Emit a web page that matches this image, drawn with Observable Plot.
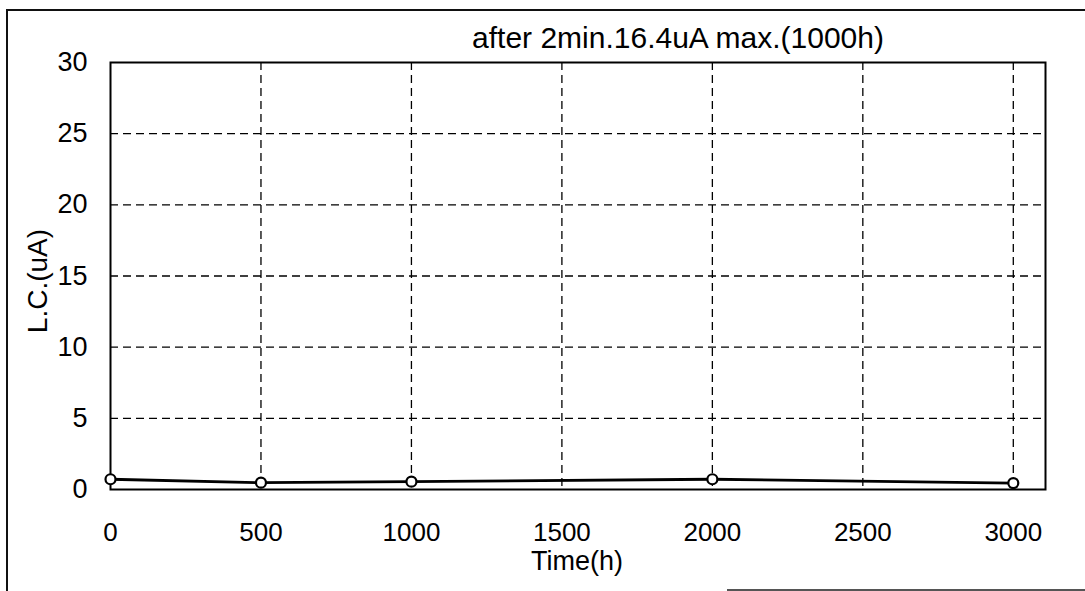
<!DOCTYPE html>
<html>
<head>
<meta charset="utf-8">
<script src="https://cdn.jsdelivr.net/npm/d3@7"></script>
<script src="https://cdn.jsdelivr.net/npm/@observablehq/plot@0.6"></script>
<style>
  html, body { margin: 0; padding: 0; background: #fff; }
  #wrap { position: relative; width: 1085px; height: 591px; overflow: hidden; background: #fff; }
  #wrap svg { position: absolute; left: 0; top: 0; }
  .b { position: absolute; background: #111; }
</style>
</head>
<body>
<div id="wrap">
  <div class="b" style="left:6px; top:9px; width:1079px; height:1.5px;"></div>
  <div class="b" style="left:6px; top:9px; width:1.5px; height:582px;"></div>
  <div class="b" style="left:727px; top:589px; width:358px; height:1.5px; background:#555;"></div>
</div>
<script>
const times = [0, 500, 1000, 2000, 3000];
const lc = [0.72, 0.48, 0.55, 0.72, 0.45];
const xTicks = [0, 500, 1000, 1500, 2000, 2500, 3000];
const yTicks = [0, 5, 10, 15, 20, 25, 30];
const xGrid = [500, 1000, 1500, 2000, 2500, 3000];
const yGrid = [5, 10, 15, 20, 25];
const title = "after 2min.16.4uA max.(1000h)";
const xLabel = "Time(h)";
const yLabel = "L.C.(uA)";

const data = times.map((t, i) => ({t, v: lc[i]}));
const font = "'Liberation Sans', Arial, Helvetica, sans-serif";

const chart = Plot.plot({
  width: 1085,
  height: 591,
  marginLeft: 110,
  marginRight: 40,
  marginTop: 62,
  marginBottom: 102,
  style: {fontFamily: font, fontSize: "26px", background: "transparent", color: "#000", overflow: "visible"},
  x: {domain: [0, 3107], ticks: xTicks},
  y: {domain: [0, 30], ticks: yTicks},
  marks: [
    Plot.gridX(xGrid, {stroke: "#000", strokeOpacity: 1, strokeWidth: 1.3, strokeDasharray: "8,5"}),
    Plot.gridY(yGrid, {stroke: "#000", strokeOpacity: 1, strokeWidth: 1.3, strokeDasharray: "8,5"}),
    Plot.frame({stroke: "#000", strokeWidth: 2}),
    Plot.axisX(xTicks, {tickSize: 0, tickPadding: 33, fontSize: 26, tickFormat: d => String(d), label: null}),
    Plot.axisY(yTicks, {tickSize: 0, tickPadding: 23, fontSize: 27, tickFormat: d => String(d), label: null}),
    Plot.line(data, {x: "t", y: "v", stroke: "#000", strokeWidth: 2.8}),
    Plot.dot(data, {x: "t", y: "v", r: 5, fill: "#fff", stroke: "#000", strokeWidth: 2.2}),
    Plot.text([title], {frameAnchor: "top", text: d => d, fontSize: 30, textAnchor: "middle", lineAnchor: "middle", dx: 100, dy: -24, fill: "#000"}),
    Plot.text([xLabel], {frameAnchor: "bottom", text: d => d, fontSize: 27, textAnchor: "middle", lineAnchor: "middle", dx: -1, dy: 72, fill: "#000"}),
    Plot.text([yLabel], {frameAnchor: "left", text: d => d, fontSize: 28, rotate: -90, textAnchor: "middle", lineAnchor: "middle", dx: -72, dy: 5, fill: "#000"})
  ]
});
document.getElementById("wrap").appendChild(chart);
</script>
</body>
</html>
